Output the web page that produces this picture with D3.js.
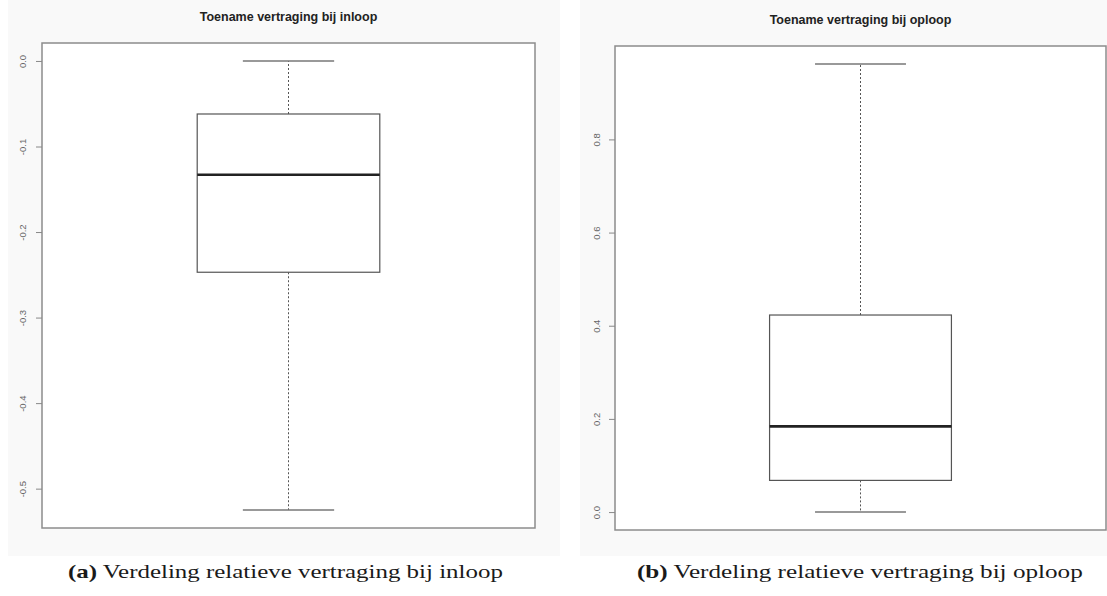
<!DOCTYPE html>
<html>
<head>
<meta charset="utf-8">
<script src="https://cdn.jsdelivr.net/npm/d3@7"></script>
<style>
  html, body { margin: 0; padding: 0; background: #ffffff; }
  svg { display: block; }
</style>
</head>
<body>
<svg id="chart" width="1107" height="596"></svg>
<script>
// Five-number summaries: [lower whisker, Q1, median, Q3, upper whisker]
const panelTitles = ["Toename vertraging bij inloop", "Toename vertraging bij oploop"];
const inloopStats = [-0.525, -0.247, -0.133, -0.062, 0.0];
const oploopStats = [0.0, 0.068, 0.184, 0.423, 0.962];
const inloopTicks = [0.0, -0.1, -0.2, -0.3, -0.4, -0.5];
const oploopTicks = [0.0, 0.2, 0.4, 0.6, 0.8];
const captionLetters = ["(a)", "(b)"];
const captionTexts = ["Verdeling relatieve vertraging bij inloop", "Verdeling relatieve vertraging bij oploop"];

const svg = d3.select("#chart");

const panels = [
  { title: panelTitles[0], stats: inloopStats, ticks: inloopTicks,
    bg: [8, 0, 552, 556], frame: [42, 43, 535, 528], titleY: 21, labelX: 26,
    caption: [captionLetters[0], captionTexts[0]], capX: 68, capW: 435 },
  { title: panelTitles[1], stats: oploopStats, ticks: oploopTicks,
    bg: [580, 0, 527, 556], frame: [615, 46, 1106, 530], titleY: 24, labelX: 600,
    caption: [captionLetters[1], captionTexts[1]], capX: 637, capW: 446 }
];

panels.forEach(p => {
  const [fx0, fy0, fx1, fy1] = p.frame;
  const g = svg.append("g");

  // faint backdrop behind each plot
  g.append("rect").attr("x", p.bg[0]).attr("y", p.bg[1])
    .attr("width", p.bg[2]).attr("height", p.bg[3]).attr("fill", "#f9f9f9");
  g.append("rect").attr("x", fx0).attr("y", fy0)
    .attr("width", fx1 - fx0).attr("height", fy1 - fy0).attr("fill", "#ffffff");

  // value axis padded by 4% of the data range on both sides
  const lo = d3.min(p.stats), hi = d3.max(p.stats), pad = (hi - lo) * 0.04;
  const y = d3.scaleLinear().domain([lo - pad, hi + pad]).range([fy1, fy0]);
  // single group positioned at 1 on an x range of 0.5..1.5 padded by 4%
  const x = d3.scaleLinear().domain([0.46, 1.54]).range([fx0, fx1]);

  const [wLo, q1, med, q3, wHi] = p.stats;

  // whiskers (dashed)
  g.append("line").attr("x1", x(1)).attr("x2", x(1)).attr("y1", y(q3)).attr("y2", y(wHi))
    .attr("stroke", "#555").attr("stroke-width", 1).attr("stroke-dasharray", "2,2");
  g.append("line").attr("x1", x(1)).attr("x2", x(1)).attr("y1", y(q1)).attr("y2", y(wLo))
    .attr("stroke", "#555").attr("stroke-width", 1).attr("stroke-dasharray", "2,2");

  // staples
  [wLo, wHi].forEach(v => {
    g.append("line").attr("x1", x(0.9)).attr("x2", x(1.1)).attr("y1", y(v)).attr("y2", y(v))
      .attr("stroke", "#777").attr("stroke-width", 1.5);
  });

  // box
  g.append("rect").attr("x", x(0.8)).attr("y", y(q3))
    .attr("width", x(1.2) - x(0.8)).attr("height", y(q1) - y(q3))
    .attr("fill", "none").attr("stroke", "#555").attr("stroke-width", 1.2);

  // median
  g.append("line").attr("x1", x(0.8)).attr("x2", x(1.2)).attr("y1", y(med)).attr("y2", y(med))
    .attr("stroke", "#222").attr("stroke-width", 2.6);

  // frame
  g.append("rect").attr("x", fx0).attr("y", fy0)
    .attr("width", fx1 - fx0).attr("height", fy1 - fy0)
    .attr("fill", "none").attr("stroke", "#8c8c8c").attr("stroke-width", 1.5);

  // left axis with rotated labels
  const axis = d3.axisLeft(y).tickValues(p.ticks).tickSize(6).tickFormat(d3.format(".1f"));
  const ag = g.append("g").attr("transform", `translate(${fx0},0)`).call(axis);
  ag.select(".domain").remove();
  ag.selectAll(".tick line").attr("stroke", "#888");
  ag.selectAll(".tick text")
    .attr("x", null).attr("dy", null)
    .attr("transform", `translate(${p.labelX - fx0},0) rotate(-90)`)
    .attr("text-anchor", "middle")
    .attr("fill", "#666")
    .style("font-family", "Liberation Sans, Arial, sans-serif")
    .style("font-size", "9.5px")
    .text(d => d3.format(".1f")(d).replace("−", "-"));

  // plot title
  g.append("text").attr("x", (fx0 + fx1) / 2).attr("y", p.titleY)
    .attr("text-anchor", "middle")
    .style("font-family", "Liberation Sans, Arial, sans-serif")
    .style("font-weight", "bold").style("font-size", "12.5px")
    .attr("fill", "#222").text(p.title);

  // subfigure caption, glyphs scaled horizontally to the caption width
  const cap = g.append("text").attr("x", 0).attr("y", 0)
    .style("font-family", "'Liberation Serif', 'Times New Roman', serif")
    .style("font-size", "19px").attr("fill", "#1a1a1a");
  cap.append("tspan").style("font-weight", "bold").text(p.caption[0]);
  cap.append("tspan").text(" " + p.caption[1]);
  const w = cap.node().getComputedTextLength();
  cap.attr("transform", `translate(${p.capX},578) scale(${p.capW / w},1)`);
});
</script>
</body>
</html>
